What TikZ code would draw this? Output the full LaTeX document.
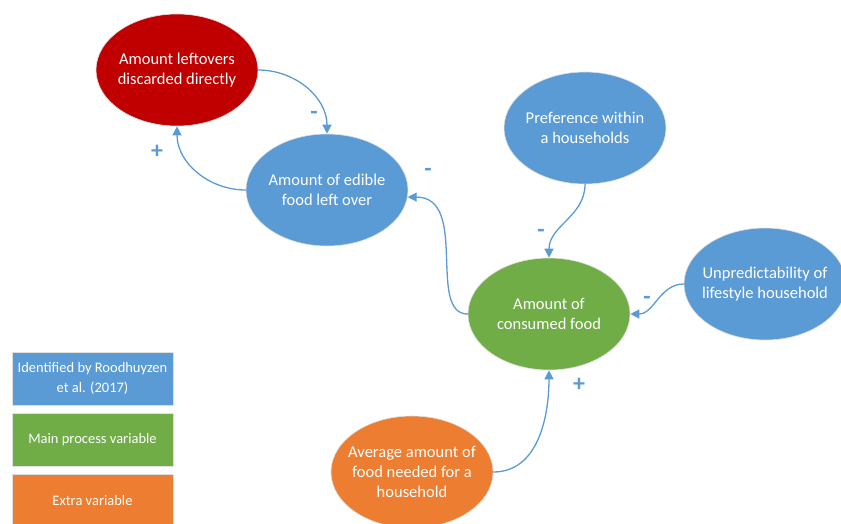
\documentclass[tikz,border=0pt]{standalone}
\usepackage{fontspec}
\setmainfont{Carlito}
\usetikzlibrary{shapes.geometric,arrows.meta}
\definecolor{cblue}{HTML}{5B9BD5}
\definecolor{cgreen}{HTML}{70AD47}
\definecolor{corange}{HTML}{ED7D31}
\definecolor{cred}{HTML}{C00000}
\begin{document}
\begin{tikzpicture}[x=1pt,y=-1pt,>={Triangle[length=9pt,width=9pt]}, line join=round, line cap=round,
	var/.style={ellipse, draw=gray!25, line width=0.6pt, fill=cblue, text=white, align=center, minimum width=162pt, minimum height=112pt, inner sep=-8pt, font=\fontsize{16.5}{20}\selectfont},
	key/.style={rectangle, draw=gray!25, line width=0.6pt, text=white, align=center, minimum width=161pt, minimum height=53pt, inner sep=0pt, font=\fontsize{14.5}{20}\selectfont},
	link/.style={->, cblue, line width=1.3pt},
	sign/.style={cblue, inner sep=0pt, font=\fontsize{24}{24}\selectfont\bfseries}]
	\useasboundingbox (0,0) rectangle (841,523);
	% variables
	\node[var, fill=cred] (leftover) at (177,70) {Amount leftovers\\discarded directly};
	\node[var] (edible) at (327,190) {Amount of edible\\food left over};
	\node[var] (pref) at (585,128) {Preference within\\a households};
	\node[var, fill=cgreen] (consumed) at (549,314) {Amount of\\consumed food};
	\node[var] (unpred) at (765,284) {Unpredictability of\\lifestyle household};
	\node[var, fill=corange] (average) at (412,472) {Average amount of\\food needed for a\\household};
	% legend
	\node[key, fill=cblue] (keyblue) at (92.5,378.5) {Identified by Roodhuyzen\\et al. (2017)};
	\node[key, fill=cgreen] (keygreen) at (92.5,439.5) {Main process variable};
	\node[key, fill=corange] (keyorange) at (92.5,500.5) {Extra variable};
	% links
	\draw[link] (leftover.east) to[out=0,in=90] (edible.north);
	\draw[link] (edible.west) to[out=180,in=-90] (leftover.south);
	\draw[link] (consumed.west) to[out=180,in=0,out looseness=0.8,in looseness=1.2] (edible.-5);
	\draw[link] (pref.south) to[out=-90,in=90] (consumed.north);
	\draw[link] (unpred.west) to[out=180,in=0] (consumed.east);
	\draw[link] (average.east) to[out=0,in=-90] (consumed.south);
	\path
	(314,115) node[sign] (s1) {-}
	(157,152) node[sign] (s2) {+}
	(428,172) node[sign] (s3) {-}
	(541,233) node[sign] (s4) {-}
	(647,300) node[sign] (s5) {-}
	(579,385) node[sign] (s6) {+}
	;
\end{tikzpicture}
\end{document}
